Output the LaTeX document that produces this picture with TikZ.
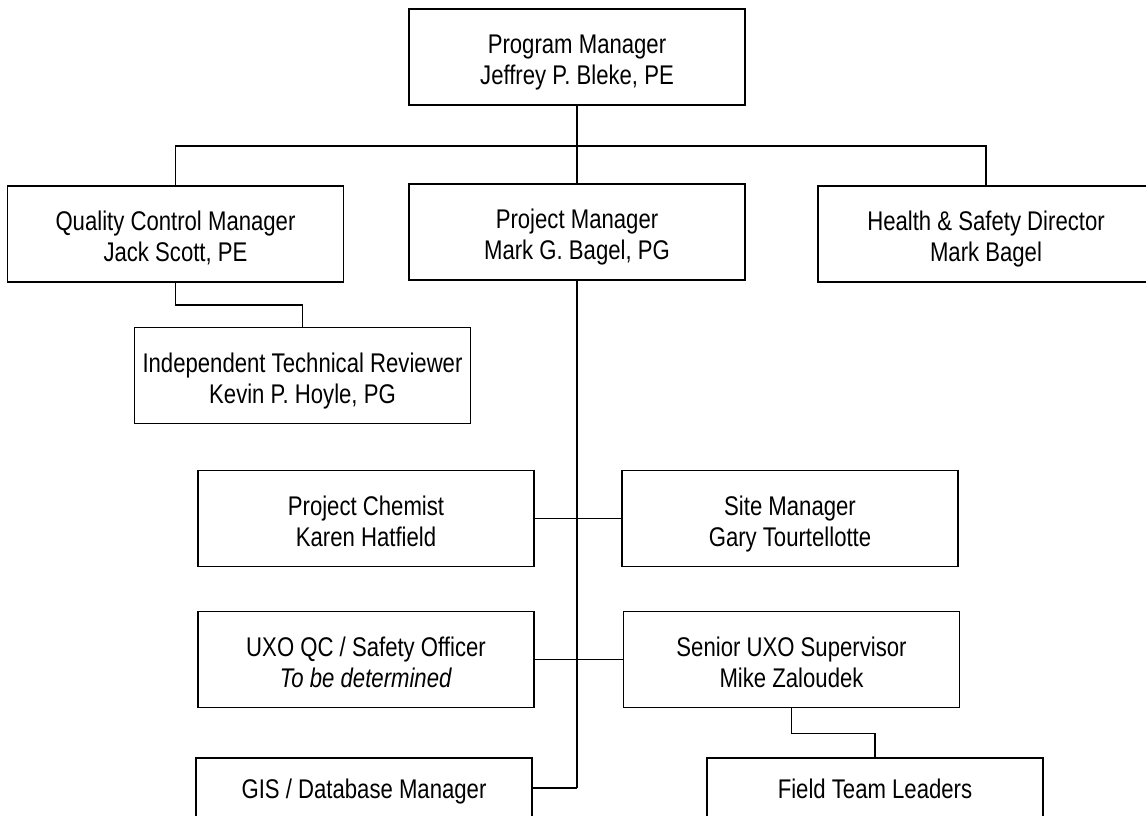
\documentclass[tikz,border=0pt]{standalone}
\usepackage{fontspec}
\setmainfont{Liberation Sans}[FakeStretch=0.82]
\begin{document}
\begin{tikzpicture}[x=0.75pt,y=-0.75pt,
  orgbox/.style={draw=black, line width=1.25pt, minimum width=252pt, inner sep=0pt,
    text height=57pt, text depth=15pt,
    align=center, font=\fontsize{20.25}{23.25}\selectfont},
  onebox/.style={draw=black, line width=1.25pt, minimum width=252pt, inner sep=0pt,
    text height=30.75pt, text depth=41.25pt, font=\fontsize{20.25}{23.25}\selectfont},
  thinline/.style={draw=black, line width=1.25pt},
  thickline/.style={draw=black, line width=2pt}]
\useasboundingbox (0,0) rectangle (1146,816);
\clip (0,0) rectangle (1146,816);
\fill[white] (0,0) rectangle (1146,816);

\node[orgbox] (pgm) at (577,57) {Program Manager\\Jeffrey P. Bleke, PE};
\node[orgbox] (qcm) at (175.5,234) {Quality Control Manager\\Jack Scott, PE};
\node[orgbox] (pjm) at (577,232) {Project Manager\\Mark G. Bagel, PG};
\node[orgbox] (hsd) at (986,234) {Health \& Safety Director\\Mark Bagel};
\node[orgbox] (itr) at (302.5,375.5) {Independent Technical Reviewer\\Kevin P. Hoyle, PG};
\node[orgbox] (pc) at (366,518.5) {Project Chemist\\Karen Hatfield};
\node[orgbox] (sm) at (790,518.5) {Site Manager\\Gary Tourtellotte};
\node[orgbox] (uxq) at (366,659.5) {UXO QC / Safety Officer\\\textit{To be determined}};
\node[orgbox] (sux) at (791.5,659.5) {Senior UXO Supervisor\\Mike Zaloudek};
\node[onebox, anchor=north] (gis) at (364,757) {GIS / Database Manager};
\node[onebox, anchor=north] (ftl) at (875,757) {Field Team Leaders};

\coordinate (bar) at (577,146);
\coordinate (mainend) at (577,788);
\coordinate (gisin) at (532,788);

\draw[thickline] (pgm.south) -- (pjm.north);
\draw[thinline] (qcm.north) |- (bar) -| (hsd.north);
\draw[thinline] (qcm.south) -- ++(0,22) -| (itr.north);
\draw[thickline] (pjm.south) -- (mainend);
\draw[thinline] (mainend) -- (gisin);
\draw[thinline] (pc.east) -- (sm.west);
\draw[thinline] (uxq.east) -- (sux.west);
\draw[thinline] (sux.south) -- ++(0,25) -| (ftl.north);
\end{tikzpicture}
\end{document}
